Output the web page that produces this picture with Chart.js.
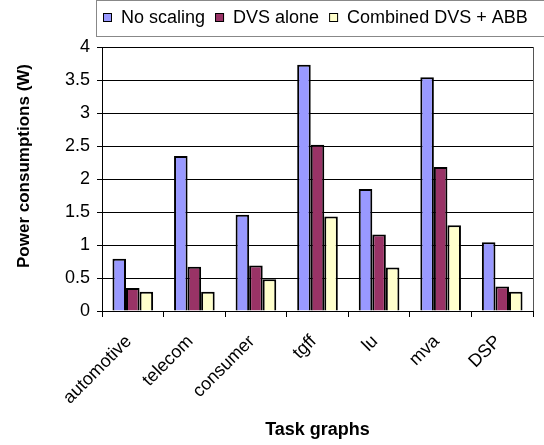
<!DOCTYPE html>
<html>
<head>
<meta charset="utf-8">
<script src="https://cdn.jsdelivr.net/npm/chart.js@4/dist/chart.umd.min.js"></script>
<style>
  html, body { margin: 0; padding: 0; background: #fff; }
  #wrap { width: 544px; height: 445px; position: relative; }
</style>
</head>
<body>
<div id="wrap"><canvas id="c" width="544" height="445"></canvas></div>
<script>
// Task graph benchmarks and power consumption (W) per scaling scheme
const categories = ['automotive', 'telecom', 'consumer', 'tgff', 'lu', 'mva', 'DSP'];
const noScaling = [0.79, 2.35, 1.46, 3.73, 1.85, 3.54, 1.04];
const dvsAlone  = [0.35, 0.67, 0.69, 2.52, 1.16, 2.18, 0.37];
const combined  = [0.29, 0.29, 0.48, 1.43, 0.66, 1.30, 0.29];
const seriesNames = ['No scaling', 'DVS alone', 'Combined DVS + ABB'];
const yTicks = [0, 0.5, 1, 1.5, 2, 2.5, 3, 3.5, 4];
const yTitle = 'Power consumptions (W)';

const FONT = "'Liberation Sans', Arial, sans-serif";
const colors = ['#9999FF', '#993366', '#FFFFCC'];

// Boxed legend across the top, plot frame, and the value-axis title
const framePlugin = {
  id: 'frameAndLegend',
  afterDraw(chart) {
    const ctx = chart.ctx;
    const a = chart.chartArea;
    ctx.save();
    // right edge of plot frame
    ctx.strokeStyle = '#555';
    ctx.lineWidth = 1;
    ctx.beginPath();
    ctx.moveTo(Math.round(a.right) + 0.5, a.top);
    ctx.lineTo(Math.round(a.right) + 0.5, a.bottom);
    ctx.stroke();

    // legend box
    ctx.strokeStyle = '#888';
    ctx.strokeRect(96.5, 0.5, 470, 36);

    ctx.font = '18px ' + FONT;
    ctx.textBaseline = 'middle';
    ctx.textAlign = 'left';
    let x = 103;
    chart.data.datasets.forEach((ds) => {
      ctx.fillStyle = ds.backgroundColor;
      ctx.fillRect(x, 13, 9, 9);
      ctx.strokeStyle = '#000';
      ctx.lineWidth = 1;
      ctx.strokeRect(x + 0.5, 13.5, 8, 8);
      ctx.fillStyle = '#000';
      const tx = x + 18;
      ctx.fillText(ds.label, tx, 18);
      x = tx + ctx.measureText(ds.label).width + 10;
    });

    // value-axis title
    ctx.translate(24, 166);
    ctx.rotate(-Math.PI / 2);
    ctx.font = 'bold 17px ' + FONT;
    ctx.textAlign = 'center';
    ctx.fillStyle = '#000';
    ctx.fillText(yTitle, 0, 0);
    ctx.restore();
  }
};

new Chart(document.getElementById('c'), {
  type: 'bar',
  data: {
    labels: categories,
    datasets: [
      { label: seriesNames[0], data: noScaling, backgroundColor: colors[0] },
      { label: seriesNames[1], data: dvsAlone,  backgroundColor: colors[1] },
      { label: seriesNames[2], data: combined,  backgroundColor: colors[2] }
    ].map(d => Object.assign(d, {
      borderColor: '#000', borderWidth: 2,
      categoryPercentage: 0.66, barPercentage: 1.0
    }))
  },
  options: {
    responsive: false,
    animation: false,
    devicePixelRatio: 1,
    layout: { padding: { top: 47, right: 11, left: 0, bottom: 0 } },
    plugins: { legend: { display: false }, tooltip: { enabled: false } },
    scales: {
      x: {
        afterFit(scale) { scale.height = 134; },
        grid: { display: true, drawOnChartArea: false, drawTicks: true, tickLength: 6, color: '#000', offset: true },
        border: { display: true, color: '#000', width: 1 },
        ticks: {
          color: '#000', font: { family: FONT, size: 18 },
          minRotation: 45, maxRotation: 45, padding: 14, labelOffset: -4, autoSkip: false
        },
        title: {
          display: true, text: 'Task graphs', color: '#000',
          font: { family: FONT, size: 18, weight: 'bold' },
          padding: { top: 4, bottom: 4 }
        }
      },
      y: {
        min: 0, max: 4,
        afterFit(scale) { scale.width = 102; },
        afterBuildTicks(scale) { scale.ticks = yTicks.map(v => ({ value: v })); },
        grid: { color: '#000', lineWidth: 1, tickLength: 5, drawTicks: true },
        border: { display: true, color: '#000', width: 1 },
        ticks: {
          color: '#000', font: { family: FONT, size: 18 }, padding: 7,
          callback: v => String(v)
        },
        title: { display: false }
      }
    }
  },
  plugins: [framePlugin]
});
</script>
</body>
</html>
